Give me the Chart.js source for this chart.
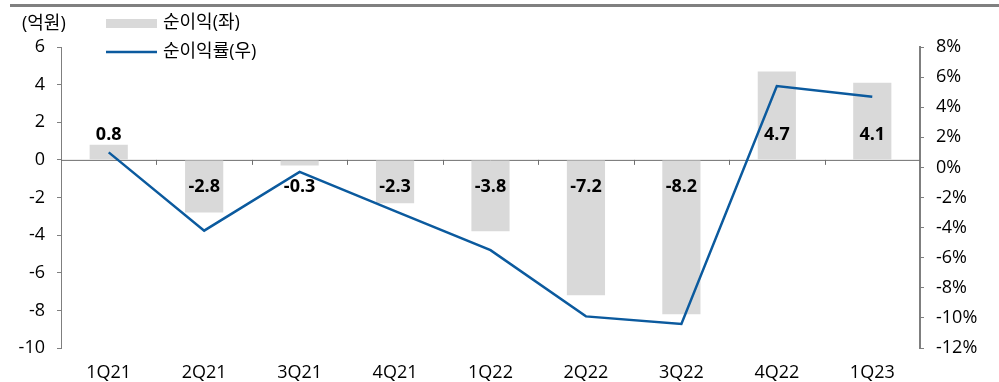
<!DOCTYPE html>
<html>
<head>
<meta charset="utf-8">
<script src="https://cdn.jsdelivr.net/npm/chart.js@4"></script>
<style>
  html, body { margin: 0; padding: 0; background: #fff; }
  #wrap { position: relative; width: 999px; height: 382px; }
</style>
</head>
<body>
<div id="wrap"><canvas id="profitChart"></canvas></div>
<script>
// 분기별 순이익(억원)과 순이익률(%)
const quarters = ['1Q21', '2Q21', '3Q21', '4Q21', '1Q22', '2Q22', '3Q22', '4Q22', '1Q23'];
const netIncome = [0.8, -2.8, -0.3, -2.3, -3.8, -7.2, -8.2, 4.7, 4.1];
const netMargin = [1.0, -4.2, -0.3, -2.9, -5.5, -9.9, -10.4, 5.4, 4.7];

const FONT = "'Open Sans', 'Noto Sans CJK KR', sans-serif";
const BAR_COLOR = '#d9d9d9';
const LINE_COLOR = '#0b5a9e';
const AXIS_COLOR = '#7f7f7f';

// 상단 구분선, 0 기준선, 범례, 막대 값 표시
const decorations = {
  id: 'decorations',
  beforeDatasetsDraw(chart) {
    const { ctx, chartArea, scales } = chart;
    const y0 = scales.y.getPixelForValue(0);
    ctx.save();
    ctx.strokeStyle = '#6f6f6f';
    ctx.lineWidth = 1;
    ctx.beginPath();
    ctx.moveTo(chartArea.left, y0 + 0.5);
    ctx.lineTo(chartArea.right, y0 + 0.5);
    // 카테고리 경계 눈금
    const step = (chartArea.right - chartArea.left) / quarters.length;
    for (let i = 1; i < quarters.length; i++) {
      const x = Math.round(chartArea.left + step * i) + 0.5;
      ctx.moveTo(x, y0);
      ctx.lineTo(x, y0 + 5);
    }
    ctx.stroke();
    ctx.restore();
  },
  afterDatasetsDraw(chart) {
    const { ctx, scales } = chart;
    const y0 = scales.y.getPixelForValue(0);
    ctx.save();

    // 막대 값
    ctx.font = 'bold 18px ' + FONT;
    ctx.fillStyle = '#000';
    ctx.textAlign = 'center';
    ctx.textBaseline = 'middle';
    const meta = chart.getDatasetMeta(0);
    meta.data.forEach((bar, i) => {
      const v = netIncome[i];
      const y = v >= 0 ? y0 - 25 : y0 + 27;
      ctx.fillText(v.toFixed(1), bar.x, y);
    });

    // 상단 선
    ctx.fillStyle = '#808080';
    ctx.fillRect(10, 4, 989, 3);

    // 단위
    ctx.font = '18px ' + FONT;
    ctx.fillStyle = '#000';
    ctx.textAlign = 'left';
    ctx.fillText('(억원)', 22, 24);

    // 범례
    ctx.fillStyle = BAR_COLOR;
    ctx.fillRect(106, 19, 51, 9);
    ctx.strokeStyle = LINE_COLOR;
    ctx.lineWidth = 2.5;
    ctx.beginPath();
    ctx.moveTo(106, 52);
    ctx.lineTo(157, 52);
    ctx.stroke();
    ctx.fillStyle = '#000';
    ctx.fillText('순이익(좌)', 163, 23);
    ctx.fillText('순이익률(우)', 163, 52);
    ctx.restore();
  }
};

const ctx = document.getElementById('profitChart').getContext('2d');

const cfg = {
  type: 'bar',
  data: {
    labels: quarters,
    datasets: [
      {
        type: 'bar',
        label: '순이익(좌)',
        data: netIncome,
        backgroundColor: BAR_COLOR,
        yAxisID: 'y',
        barPercentage: 0.4,
        categoryPercentage: 1,
        order: 2
      },
      {
        type: 'line',
        label: '순이익률(우)',
        data: netMargin,
        borderColor: LINE_COLOR,
        borderWidth: 2.5,
        pointRadius: 0,
        tension: 0,
        yAxisID: 'y1',
        order: 1
      }
    ]
  },
  options: {
    responsive: true,
    maintainAspectRatio: false,
    animation: false,
    layout: { padding: { top: 47, left: 0, right: 0, bottom: 0 } },
    plugins: {
      legend: { display: false },
      tooltip: { enabled: false }
    },
    scales: {
      x: {
        grid: { display: false },
        border: { display: false },
        ticks: {
          color: '#000',
          font: { family: FONT, size: 18 },
          padding: 6,
          maxRotation: 0
        },
        afterFit(scale) { scale.height = 34; }
      },
      y: {
        position: 'left',
        min: -10,
        max: 6,
        ticks: {
          stepSize: 2,
          color: '#000',
          font: { family: FONT, size: 18 },
          padding: 12
        },
        grid: { drawOnChartArea: false, drawTicks: true, tickLength: 4, color: AXIS_COLOR },
        border: { display: true, color: AXIS_COLOR, width: 1 },
        afterFit(scale) { scale.width = 61; }
      },
      y1: {
        position: 'right',
        min: -12,
        max: 8,
        ticks: {
          stepSize: 2,
          color: '#000',
          font: { family: FONT, size: 18 },
          padding: 12,
          callback: v => v + '%'
        },
        grid: { drawOnChartArea: false, drawTicks: true, tickLength: 4, color: AXIS_COLOR },
        border: { display: true, color: AXIS_COLOR, width: 2 },
        afterFit(scale) { scale.width = 79; }
      }
    }
  },
  plugins: [decorations]
};

const profitChart = new Chart(ctx, cfg);
</script>
</body>
</html>
